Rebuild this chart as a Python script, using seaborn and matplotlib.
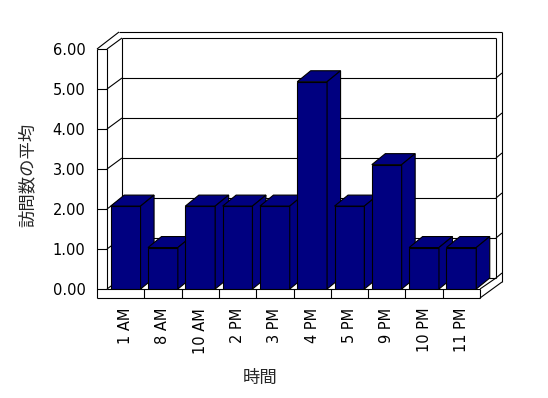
import matplotlib
matplotlib.use("Agg")
import matplotlib.pyplot as plt
import seaborn as sns
import pandas as pd
from matplotlib.patches import Polygon
from matplotlib.transforms import IdentityTransform

# ---- data ----
hours = ["1 AM", "8 AM", "10 AM", "2 PM", "3 PM", "4 PM", "5 PM", "9 PM", "10 PM", "11 PM"]
avg_visits = [2, 1, 2, 2, 2, 5, 2, 3, 1, 1]
y_ticks = [0, 1, 2, 3, 4, 5, 6]
y_tick_labels = ["0.00", "1.00", "2.00", "3.00", "4.00", "5.00", "6.00"]
x_title = "時間"
y_title = "訪問数の平均"

sns.set_theme(style="white")
plt.rcParams["font.family"] = ["DejaVu Sans", "Noto Sans CJK JP"]

W, H = 548, 398
BAR = "#000080"
fig = plt.figure(figsize=(W / 100, H / 100), dpi=100)
fig.patch.set_facecolor("white")

# plot area (front plane) in pixels, top-origin
L, R, T, B = 107, 480, 49, 289
pos = [L / W, (H - B) / H, (R - L) / W, (B - T) / H]

# background axes in pixel coordinates for walls / floor
bg = fig.add_axes([0, 0, 1, 1], zorder=0)
bg.set_xlim(0, W)
bg.set_ylim(H, 0)
bg.axis("off")

# axis with wall scale (ticks)
ax = fig.add_axes(pos, zorder=1)
ax.set_facecolor("none")
ax.set_xlim(-0.5, len(hours) - 0.5)
ax.set_ylim(y_ticks[0], y_ticks[-1])
ax.set_yticks(y_ticks)
ax.set_yticklabels(y_tick_labels, fontsize=10.5)
ax.set_xticks(range(len(hours)))
ax.set_xticklabels(hours, rotation=90, fontsize=10.5)
ax.tick_params(axis="y", length=0, pad=15.5, colors="black")
ax.tick_params(axis="x", length=0, pad=13.5, colors="black")
for s in ax.spines.values():
    s.set_visible(False)

# bar axis (front faces of 3D columns)
bax = fig.add_axes(pos, zorder=2)
df = pd.DataFrame({"hour": hours, "visits": avg_visits})
sns.barplot(data=df, x="hour", y="visits", order=hours, ax=bax, color=BAR,
            saturation=1, width=0.8, edgecolor="black", linewidth=0.8)
bax.set_facecolor("none")
bax.set_xlim(-0.5, len(hours) - 0.5)
bax.set_ylim(0, (B - T) / 41.45)
bax.set_xlabel("")
bax.set_ylabel("")
bax.set_xticks([])
bax.set_yticks([])
for s in bax.spines.values():
    s.set_visible(False)

# ---- frame (walls & floor) ----
lw = 0.8
def seg(x0, y0, x1, y1):
    bg.plot([x0, x1], [y0, y1], color="black", lw=lw, solid_capstyle="butt")

def front_y(v):
    return H - ax.transData.transform((0, v))[1]

DXW, DYW = 15, 11
BL, BR = L + DXW, R + 16
OUT_L, OUT_T, OUT_R = 97, 32, 502
FLOOR_B = 298

seg(OUT_L, front_y(6), OUT_L, FLOOR_B)
seg(L, front_y(6), L, B)
seg(OUT_L, front_y(6), L, front_y(6))
seg(OUT_L, front_y(6), OUT_L + 22, OUT_T)
seg(L, front_y(6), BL, front_y(6) - DYW)
seg(OUT_L + 22, OUT_T, OUT_R, OUT_T)
seg(BL, front_y(6) - DYW, BR, front_y(6) - DYW)
seg(BL, front_y(6) - DYW, BL, front_y(0) - DYW)
seg(BR, front_y(6) - DYW, BR, front_y(0) - DYW)
seg(OUT_R, OUT_T, OUT_R, FLOOR_B - 16)
for v in y_ticks[:-1]:
    yf = front_y(v)
    yb = yf - DYW
    seg(OUT_L, yf, L, yf)
    seg(L, yf, BL, yb)
    seg(BL, yb, BR, yb)
    seg(BR, yb, OUT_R, yb - 5)
# floor
seg(L, B, R, B)
seg(OUT_L, FLOOR_B, R, FLOOR_B)
seg(R, B, R, FLOOR_B)
seg(R, B, BR, B - DYW)
seg(R, FLOOR_B, OUT_R, FLOOR_B - 16)
for k in range(1, len(hours)):
    xk = ax.transData.transform((k - 0.5, 0))[0]
    seg(xk, B, xk, FLOOR_B)

# ---- 3D faces of bars ----
DX, DY = 13.5, 11
for i, p in enumerate(bax.patches):
    x0, w, h = p.get_x(), p.get_width(), p.get_height()
    xl, yb = bax.transData.transform((x0, 0))
    xr, yt = bax.transData.transform((x0 + w, h))
    p.set_zorder(10 + 2 * i)
    top = Polygon([(xl, yt), (xr, yt), (xr + DX, yt + DY), (xl + DX, yt + DY)],
                  closed=True, facecolor=BAR, edgecolor="black", lw=0.8,
                  transform=IdentityTransform(), zorder=11 + 2 * i, clip_on=False)
    side = Polygon([(xr, yb), (xr, yt), (xr + DX, yt + DY), (xr + DX, yb + DY)],
                   closed=True, facecolor=BAR, edgecolor="black", lw=0.8,
                   transform=IdentityTransform(), zorder=11 + 2 * i, clip_on=False)
    bax.add_patch(top)
    bax.add_patch(side)
    top.set_clip_on(False)
    side.set_clip_on(False)

# ---- titles ----
fig.text(28 / W, 1 - 175 / H, y_title, rotation=90, ha="center", va="center",
         fontsize=12.5, family=["Noto Sans CJK JP", "DejaVu Sans"])
fig.text(260 / W, 1 - 378 / H, x_title, ha="center", va="center",
         fontsize=12.5, family=["Noto Sans CJK JP", "DejaVu Sans"])

fig.savefig("out.png", dpi=100, facecolor="white")
